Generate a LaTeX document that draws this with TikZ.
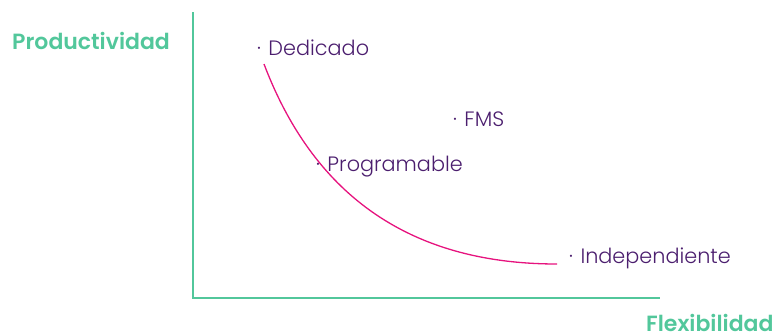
\documentclass[tikz,border=0pt]{standalone}
\usepackage{fontspec}
\setmainfont{Poppins}[UprightFont=* Light, BoldFont=* SemiBold]
\definecolor{axgreen}{HTML}{52C79B}
\definecolor{txpurple}{HTML}{4B1E6E}
\definecolor{curvemag}{HTML}{E6137E}
\tikzset{
  lbl/.style={anchor=base west, inner sep=0pt, text=txpurple, font=\fontsize{20.8}{24}\selectfont},
  axlbl/.style={anchor=base west, inner sep=0pt, text=axgreen, font=\fontsize{22}{24}\selectfont\bfseries},
  axis/.style={draw=axgreen, line width=1.4pt},
  curve/.style={draw=curvemag, line width=1.3pt}
}
\newcommand{\dt}{·\hspace{7.5pt}}
\begin{document}
\begin{tikzpicture}[x=1pt,y=-1pt]
\useasboundingbox (0,0) rectangle (774,335);
\coordinate (top) at (193,12);
\coordinate (origin) at (193,298);
\coordinate (right) at (660,298);
\draw[axis] (top) -- (origin) -- (right);
\node[axlbl] (prod) at (12,49) {Productividad};
\node[axlbl] (flex) at (646,331) {Flexibilidad};
\node[lbl] (ded) at (257,55) {\dt Dedicado};
\node[lbl] (fms) at (453,126) {\dt FMS};
\node[lbl] (prog) at (316,171) {\dt Programable};
\node[lbl] (ind) at (569,263) {\dt Independiente};
\coordinate (cs) at (264,64);
\coordinate (ce) at (557,264);
\draw[curve] (cs) .. controls (305,172) and (387,264) .. (ce);
\end{tikzpicture}
\end{document}
